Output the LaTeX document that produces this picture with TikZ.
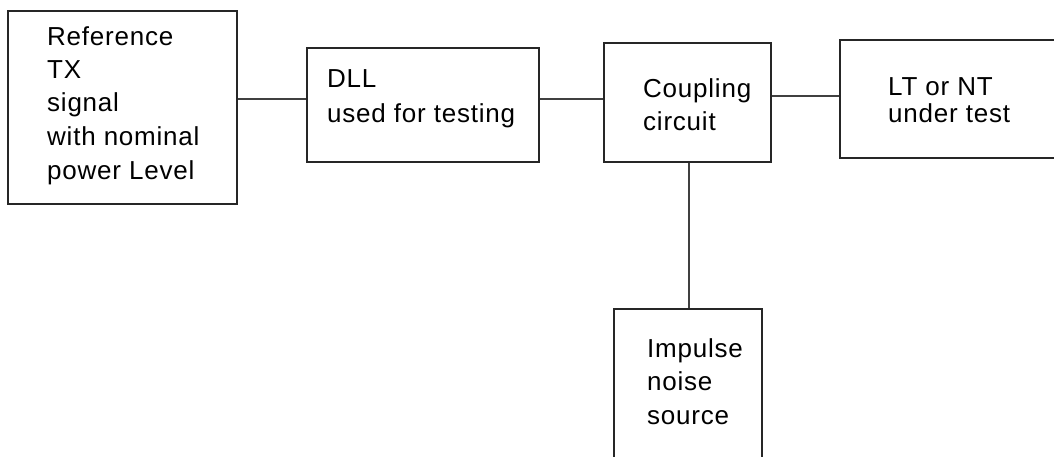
\documentclass[tikz,border=0pt]{standalone}
\usepackage{fontspec}
\setmainfont{Liberation Sans}[LetterSpace=3]
\begin{document}
\begin{tikzpicture}[x=1pt,y=-1pt,
  blk/.style={draw=black!85,line width=1.2pt,inner sep=0pt,minimum width=#1},
  lbl/.style={anchor=base west,inner sep=0pt,font=\fontsize{26}{34}\selectfont},
  wire/.style={draw=black!75,line width=1.2pt}]
\useasboundingbox (0,0) rectangle (1054,456);
% boxes
\node[blk=229pt,minimum height=193pt] (b1) at (122.5,107.5) {};
\node[blk=232pt,minimum height=114pt] (b2) at (423,105) {};
\node[blk=167pt,minimum height=119pt] (b3) at (687.5,102.5) {};
\node[blk=230pt,minimum height=118pt] (b4) at (955,99) {};
\node[blk=148pt,minimum height=170pt] (b5) at (688,394) {};
% texts
\node[lbl] (t1a) at (47,45) {Reference};
\node[lbl] (t1b) at (47,78) {TX};
\node[lbl] (t1c) at (47,111) {signal};
\node[lbl] (t1d) at (47,145) {with nominal};
\node[lbl] (t1e) at (47,179) {power Level};
\node[lbl] (t2a) at (327,87) {DLL};
\node[lbl] (t2b) at (327,122) {used for testing};
\node[lbl] (t3a) at (643,97) {Coupling};
\node[lbl] (t3b) at (643,130) {circuit};
\node[lbl] (t4a) at (888,95) {LT or NT};
\node[lbl] (t4b) at (888,122) {under test};
\node[lbl] (t5a) at (647,357) {Impulse};
\node[lbl] (t5b) at (647,390) {noise};
\node[lbl] (t5c) at (647,424) {source};
% connectors
\draw[wire] ([yshift=8.5pt]b1.east) -- ([yshift=6pt]b2.west);
\draw[wire] ([yshift=6pt]b2.east) -- ([yshift=3.5pt]b3.west);
\draw[wire] ([yshift=6.5pt]b3.east) -- ([yshift=3pt]b4.west);
\draw[wire] ([xshift=1.5pt]b3.south) -- ([xshift=1pt]b5.north);
\end{tikzpicture}
\end{document}
